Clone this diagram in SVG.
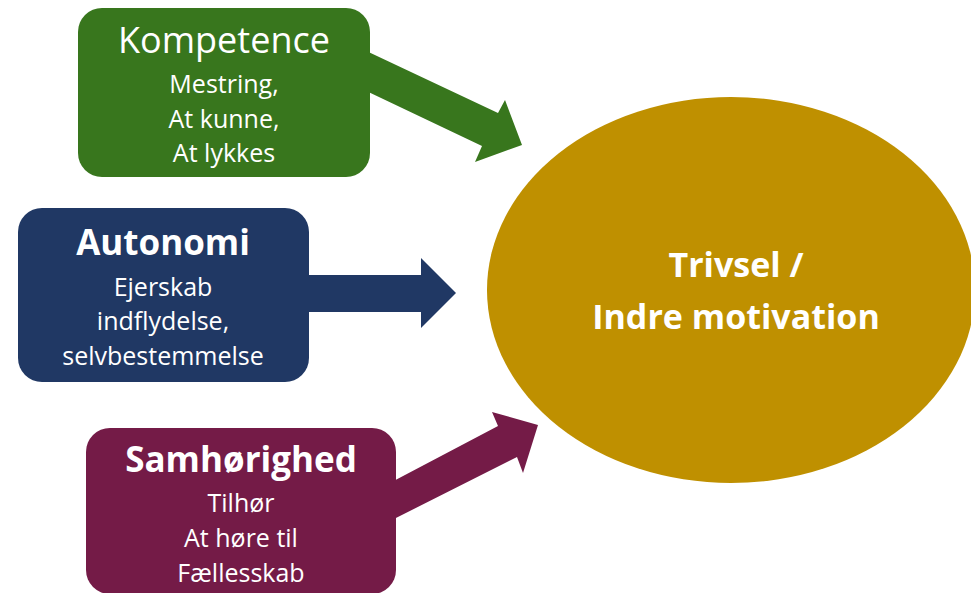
<svg xmlns="http://www.w3.org/2000/svg" width="971" height="593" viewBox="0 0 971 593">
<style>
.t{font-family:"Open Sans","Liberation Sans",sans-serif;fill:#fff;text-anchor:middle}
.h{font-size:35px;font-weight:bold}
.hr{font-size:36px}
.s{font-size:25px}
.c{font-size:34px;font-weight:bold}
</style>
<rect width="971" height="593" fill="#fff"/>
<g id="connectors">
<polygon fill="#38761d" points="360,48 498,113 505,100 522,145 475,162 482,146 360,88"/>
<polygon fill="#203864" points="300,275 421,275 421,258 456,293 421,328 421,312 300,312"/>
<polygon fill="#741b47" points="386,485 498,426 492,412 538,425 523,473 517,457 386,523"/>
</g>
<g id="center">
<ellipse cx="731" cy="290" rx="244" ry="193" fill="#bf9000"/>
<text class="t c" x="736" y="277">Trivsel /</text>
<text class="t c" x="736" y="329">Indre motivation</text>
</g>
<g id="kompetence">
<rect x="78" y="8" width="292" height="169" rx="24" fill="#38761d"/>
<text class="t hr" x="224" y="53">Kompetence</text>
<text class="t s" x="224" y="93">Mestring,</text>
<text class="t s" x="224" y="128">At kunne,</text>
<text class="t s" x="224" y="162">At lykkes</text>
</g>
<g id="autonomi">
<rect x="18" y="208" width="291" height="174" rx="24" fill="#203864"/>
<text class="t h" x="163" y="255">Autonomi</text>
<text class="t s" x="163" y="296">Ejerskab</text>
<text class="t s" x="163" y="330">indflydelse,</text>
<text class="t s" x="163" y="365">selvbestemmelse</text>
</g>
<g id="samhorighed">
<rect x="86" y="428" width="310" height="166" rx="24" fill="#741b47"/>
<text class="t h" x="241" y="472">Samhørighed</text>
<text class="t s" x="241" y="512">Tilhør</text>
<text class="t s" x="241" y="547">At høre til</text>
<text class="t s" x="241" y="582">Fællesskab</text>
</g>
</svg>
